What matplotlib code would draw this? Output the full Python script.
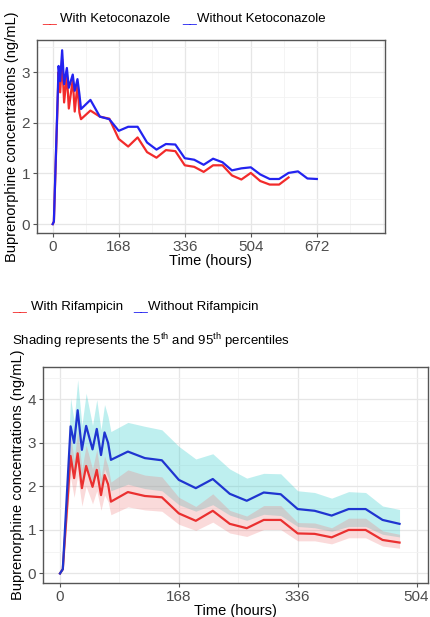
import matplotlib
matplotlib.use("Agg")
import matplotlib.pyplot as plt
from matplotlib.ticker import MultipleLocator

plt.rcParams['font.family'] = ['Liberation Sans', 'DejaVu Sans']
plt.rcParams['mathtext.fontset'] = 'custom'
plt.rcParams['mathtext.rm'] = 'Liberation Sans'

# ---- top panel: ketoconazole ----
keto_time = [0, 3, 15, 19, 24, 29, 36, 41, 51, 56, 63, 68,
             72, 96, 120, 144, 168, 192, 216, 240, 264, 288, 312, 336, 360,
             384, 408, 432, 456, 480, 504, 528, 552, 576, 600, 624, 648, 672]
without_keto = [0, 0.05, 3.12, 2.82, 3.43, 2.76, 3.08, 2.69, 2.95, 2.63, 2.86, 2.56,
                2.27, 2.45, 2.12, 2.07, 1.84, 1.92, 1.92, 1.61, 1.47, 1.58, 1.57, 1.30, 1.27,
                1.17, 1.29, 1.22, 1.06, 1.10, 1.12, 0.98, 0.89, 0.89, 1.01, 1.04, 0.90, 0.89]
with_keto = [0, 0.05, 3.00, 2.60, 3.25, 2.40, 2.95, 2.28, 2.85, 2.22, 2.75, 2.20,
             2.07, 2.24, 2.12, 2.08, 1.68, 1.53, 1.71, 1.42, 1.31, 1.46, 1.44, 1.16, 1.13,
             1.03, 1.16, 1.16, 0.96, 0.88, 1.01, 0.85, 0.78, 0.78, 0.92]

# ---- bottom panel: rifampicin ----
rif_time = [0, 4, 15, 20, 25, 31, 37, 46, 52, 58, 63, 68,
            72, 96, 120, 144, 168, 192, 216, 240, 264, 288, 312, 336, 360,
            384, 408, 432, 456, 480]
without_rif = [0, 0.1, 3.38, 3.0, 3.75, 2.84, 3.39, 2.85, 3.32, 2.72, 3.24, 3.0,
               2.61, 2.80, 2.65, 2.60, 2.15, 1.96, 2.17, 1.83, 1.67, 1.86, 1.82, 1.48, 1.44,
               1.33, 1.48, 1.48, 1.23, 1.14]
without_rif_p95 = [0, 0.15, 4.03, 3.5, 4.45, 3.4, 4.14, 3.4, 3.99, 3.3, 3.88, 3.6,
                   3.26, 3.47, 3.38, 3.30, 2.92, 2.63, 2.75, 2.40, 2.19, 2.30, 2.29, 1.90, 1.86,
                   1.73, 1.88, 1.86, 1.55, 1.47]
without_rif_p5 = [0, 0.07, 2.5, 2.2, 2.75, 2.1, 2.5, 2.1, 2.45, 2.0, 2.4, 2.2,
                  1.9, 2.05, 1.95, 1.9, 1.58, 1.43, 1.58, 1.34, 1.22, 1.36, 1.33, 1.08, 1.05,
                  0.97, 1.08, 1.08, 0.9, 0.84]
with_rif = [0, 0.1, 2.70, 2.19, 2.76, 1.96, 2.47, 1.99, 2.38, 1.80, 2.26, 2.05,
            1.65, 1.87, 1.78, 1.75, 1.38, 1.21, 1.44, 1.14, 1.04, 1.23, 1.23, 0.92, 0.91,
            0.83, 1.00, 1.00, 0.77, 0.71]
with_rif_p95 = [0, 0.12, 3.2, 2.6, 3.3, 2.4, 2.95, 2.4, 2.85, 2.2, 2.7, 2.45,
                2.1, 2.38, 2.26, 2.22, 1.75, 1.54, 1.83, 1.45, 1.32, 1.56, 1.56, 1.17, 1.16,
                1.05, 1.27, 1.27, 0.98, 0.90]
with_rif_p5 = [0, 0.08, 2.2, 1.75, 2.25, 1.55, 2.0, 1.6, 1.9, 1.45, 1.8, 1.65,
               1.35, 1.53, 1.46, 1.43, 1.13, 0.99, 1.18, 0.93, 0.85, 1.01, 1.01, 0.75, 0.75,
               0.68, 0.82, 0.82, 0.63, 0.58]

xticks_keto = [0, 168, 336, 504, 672]
xticks_rif = [0, 168, 336, 504]

RED = '#f22b2b'
BLUE = '#2323f0'


def style_axes(ax):
    ax.set_facecolor('white')
    ax.xaxis.set_minor_locator(MultipleLocator(84))
    ax.yaxis.set_minor_locator(MultipleLocator(0.5))
    ax.grid(True, which='major', color='#e6e6e6', linewidth=0.9)
    ax.grid(True, which='minor', color='#f2f2f2', linewidth=0.6)
    ax.set_axisbelow(True)
    for s in ax.spines.values():
        s.set_color('#555555')
        s.set_linewidth(1.0)
    ax.tick_params(which='major', length=3, color='#555555', labelcolor='#4d4d4d',
                   labelsize=11, pad=2)
    ax.tick_params(which='minor', length=0)
    ax.set_ylabel('Buprenorphine concentrations (ng/mL)', fontsize=10.5, labelpad=2)
    ax.set_xlabel('Time (hours)', fontsize=10.5, labelpad=0)


fig = plt.figure(figsize=(4.30, 6.17), dpi=100)

# top
ax1 = fig.add_axes([0.086, 0.622, 0.809, 0.313])
ax1.plot(keto_time[:len(with_keto)], with_keto, color=RED, linewidth=1.6)
ax1.plot(keto_time, without_keto, color=BLUE, linewidth=1.6)
ax1.set_xlim(-40, 845)
ax1.set_ylim(-0.18, 3.63)
ax1.set_xticks(xticks_keto)
ax1.set_yticks([0, 1, 2, 3])
style_axes(ax1)

fig.text(0.098, 0.965, '__', color=RED, fontsize=9.5)
fig.text(0.140, 0.965, 'With Ketoconazole', color='black', fontsize=9.5)
fig.text(0.423, 0.965, '__', color=BLUE, fontsize=9.5)
fig.text(0.458, 0.965, 'Without Ketoconazole', color='black', fontsize=9.5)

# bottom
ax2 = fig.add_axes([0.100, 0.055, 0.895, 0.350])
ax2.fill_between(rif_time, without_rif_p5, without_rif_p95, color='#3ccfcf', alpha=0.33, linewidth=0)
ax2.fill_between(rif_time, with_rif_p5, with_rif_p95, color='#f07a7a', alpha=0.28, linewidth=0)
ax2.plot(rif_time, with_rif, color='#ea3030', linewidth=1.6)
ax2.plot(rif_time, without_rif, color='#1f35d0', linewidth=1.6)
ax2.set_xlim(-24, 520)
ax2.set_ylim(-0.22, 4.74)
ax2.set_xticks(xticks_rif)
ax2.set_yticks([0, 1, 2, 3, 4])
style_axes(ax2)

fig.text(0.028, 0.497, '__', color=RED, fontsize=9.5)
fig.text(0.073, 0.497, 'With Rifampicin', color='black', fontsize=9.5)
fig.text(0.310, 0.497, '__', color=BLUE, fontsize=9.5)
fig.text(0.345, 0.497, 'Without Rifampicin', color='black', fontsize=9.5)
fig.text(0.028, 0.440, r'Shading represents the 5$^{\mathrm{th}}$ and 95$^{\mathrm{th}}$ percentiles',
         color='black', fontsize=9.5)

fig.savefig('out.png', dpi=100, facecolor='white')
